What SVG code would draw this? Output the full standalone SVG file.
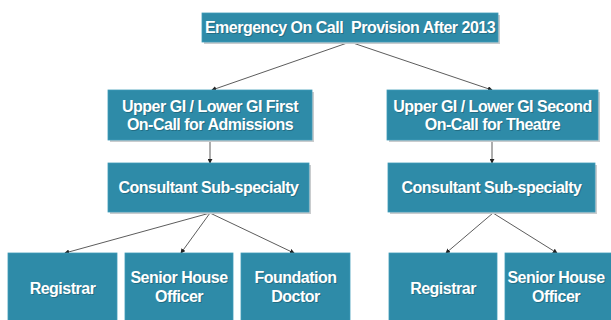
<svg xmlns="http://www.w3.org/2000/svg" width="611" height="320" viewBox="0 0 611 320">
<defs>
<style>
.box{fill:#2e8ba8;stroke:#3f9cb8;stroke-width:0.8}
.sh{fill:#c9ccce}
.t{font-family:"Liberation Sans",Arial,sans-serif;font-weight:bold;font-size:16px;letter-spacing:-0.5px;fill:#ffffff;text-anchor:middle;white-space:pre}
.ts{font-family:"Liberation Sans",Arial,sans-serif;font-weight:bold;font-size:16px;letter-spacing:-0.5px;fill:#1d5a6c;text-anchor:middle;opacity:0.6;white-space:pre}
.c{stroke:#4a4a4a;stroke-width:0.9;fill:none;marker-end:url(#ah)}
</style>
<marker id="ah" viewBox="0 0 6 6" refX="5" refY="3" markerWidth="5" markerHeight="5" orient="auto" markerUnits="userSpaceOnUse">
<path d="M0,0 L6,3 L0,6 z" fill="#222"/>
</marker>
</defs>
<rect width="611" height="320" fill="#ffffff"/>
<g id="connectors">
<line class="c" x1="350" y1="42" x2="212" y2="90"/>
<line class="c" x1="350" y1="42" x2="492" y2="90"/>
<line class="c" x1="210" y1="141" x2="210" y2="163"/>
<line class="c" x1="492" y1="141" x2="492" y2="163"/>
<line class="c" x1="210" y1="213" x2="65" y2="253"/>
<line class="c" x1="210" y1="213" x2="181" y2="253"/>
<line class="c" x1="210" y1="213" x2="294" y2="253"/>
<line class="c" x1="493" y1="213" x2="446" y2="253"/>
<line class="c" x1="493" y1="213" x2="557" y2="253"/>
</g>
<g id="top">
<rect class="sh" x="204" y="15" width="296" height="29"/>
<rect class="box" x="202" y="13" width="296" height="29"/>
<text class="ts" x="351" y="34" xml:space="preserve">Emergency On Call  Provision After 2013</text>
<text class="t" x="350" y="33" xml:space="preserve">Emergency On Call  Provision After 2013</text>
</g>
<g id="l2left">
<rect class="sh" x="110" y="92" width="204" height="50"/>
<rect class="box" x="108" y="90" width="204" height="50"/>
<text class="ts" x="211" y="113">Upper GI / Lower GI First</text>
<text class="t" x="210" y="112">Upper GI / Lower GI First</text>
<text class="ts" x="211" y="131">On-Call for Admissions</text>
<text class="t" x="210" y="130">On-Call for Admissions</text>
</g>
<g id="l2right">
<rect class="sh" x="389" y="92" width="211" height="50"/>
<rect class="box" x="387" y="90" width="211" height="50"/>
<text class="ts" x="493.5" y="113">Upper GI / Lower GI Second</text>
<text class="t" x="492.5" y="112">Upper GI / Lower GI Second</text>
<text class="ts" x="493.5" y="131">On-Call for Theatre</text>
<text class="t" x="492.5" y="130">On-Call for Theatre</text>
</g>
<g id="consLeft">
<rect class="sh" x="110" y="165" width="201" height="49"/>
<rect class="box" x="108" y="163" width="201" height="49"/>
<text class="ts" x="209.5" y="194">Consultant Sub-specialty</text>
<text class="t" x="208.5" y="193">Consultant Sub-specialty</text>
</g>
<g id="consRight">
<rect class="sh" x="390" y="165" width="207" height="49"/>
<rect class="box" x="388" y="163" width="207" height="49"/>
<text class="ts" x="492.5" y="194">Consultant Sub-specialty</text>
<text class="t" x="491.5" y="193">Consultant Sub-specialty</text>
</g>
<g id="regLeft">
<rect class="box" x="8" y="253" width="109" height="80"/>
<text class="ts" x="63.5" y="295">Registrar</text>
<text class="t" x="62.5" y="294">Registrar</text>
</g>
<g id="shoLeft">
<rect class="box" x="125" y="253" width="108" height="80"/>
<text class="ts" x="180" y="284">Senior House</text>
<text class="t" x="179" y="283">Senior House</text>
<text class="ts" x="180" y="303">Officer</text>
<text class="t" x="179" y="302">Officer</text>
</g>
<g id="fd">
<rect class="box" x="241" y="253" width="109" height="80"/>
<text class="ts" x="296.5" y="284">Foundation</text>
<text class="t" x="295.5" y="283">Foundation</text>
<text class="ts" x="296.5" y="303">Doctor</text>
<text class="t" x="295.5" y="302">Doctor</text>
</g>
<g id="regRight">
<rect class="box" x="389" y="253" width="108" height="80"/>
<text class="ts" x="444" y="295">Registrar</text>
<text class="t" x="443" y="294">Registrar</text>
</g>
<g id="shoRight">
<rect class="box" x="505" y="253" width="110" height="80"/>
<text class="ts" x="557" y="284">Senior House</text>
<text class="t" x="556" y="283">Senior House</text>
<text class="ts" x="557" y="303">Officer</text>
<text class="t" x="556" y="302">Officer</text>
</g>
</svg>
